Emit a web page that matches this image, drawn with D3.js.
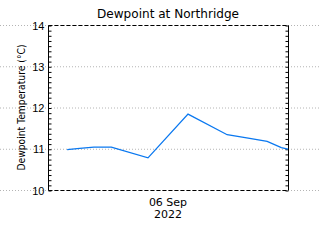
<!doctype html>
<html>
<head>
<meta charset="UTF-8">
<title>Dewpoint at Northridge</title>
<script src="https://cdn.jsdelivr.net/npm/d3@7"></script>
<style>
  html, body { margin: 0; padding: 0; background: #fff; }
  svg { display: block; font-family: "DejaVu Sans", sans-serif; }
</style>
</head>
<body>
<div id="chart"></div>
<script>
const times = ["2022-09-05T13:55", "2022-09-05T15:10", "2022-09-05T16:35",
               "2022-09-05T18:20", "2022-09-05T22:00", "2022-09-06T02:00",
               "2022-09-06T05:55", "2022-09-06T08:10", "2022-09-06T09:55",
               "2022-09-06T11:20", "2022-09-06T12:00"];
const dewpoint = [10.98, 11.01, 11.04, 11.04, 10.78, 11.84,
                  11.34, 11.25, 11.18, 11.03, 10.99];
const timeRange = ["2022-09-05T12:00", "2022-09-06T12:00"];
const yRange = [10, 14];
const yTicks = [10, 11, 12, 13, 14];
const dateLabel = ["06 Sep", "2022"];
const dateTick = "2022-09-06T00:00";

const W = 320, H = 240;
const m = {left: 48, right: 32, top: 25, bottom: 50};
const parse = d3.timeParse("%Y-%m-%dT%H:%M");

const svg = d3.select("#chart").append("svg")
  .attr("width", W).attr("height", H);

const x = d3.scaleTime()
  .domain(timeRange.map(parse))
  .range([m.left, W - m.right]);
const y = d3.scaleLinear()
  .domain(yRange)
  .range([H - m.bottom, m.top]);

// dotted grid lines run across the whole picture
svg.append("g").selectAll("line").data(yTicks).join("line")
  .attr("x1", 0).attr("x2", W)
  .attr("y1", d => y(d) + 0.5).attr("y2", d => y(d) + 0.5)
  .attr("stroke", "#b4b4b4").attr("stroke-dasharray", "1,2");

// left and right axes with inward ticks
const minor = d3.range(yRange[0], yRange[1] + 0.001, 0.125);
svg.append("g")
  .attr("transform", `translate(${m.left + 0.5},0.5)`)
  .call(d3.axisRight(y).tickValues(minor).tickSize(3).tickFormat(""))
  .call(g => g.select(".domain").remove());
svg.append("g")
  .attr("transform", `translate(${m.left + 0.5},0.5)`)
  .call(d3.axisLeft(y).tickValues(yTicks).tickSize(0).tickPadding(4)
        .tickFormat(d3.format("d")))
  .call(g => g.select(".domain").remove())
  .call(g => g.selectAll("text").attr("font-size", 11).attr("fill", "#000"));
svg.append("g")
  .attr("transform", `translate(${W - m.right + 0.5},0.5)`)
  .call(d3.axisLeft(y).tickValues(minor).tickSize(3).tickFormat(""))
  .call(g => g.select(".domain").remove());

svg.selectAll(".tick line").attr("stroke", "#000");

// frame: solid sides, dashed top and bottom
const x0 = m.left + 0.5, x1 = W - m.right + 0.5;
const yt = m.top + 0.5, yb = H - m.bottom + 0.5;
svg.append("line").attr("x1", x0).attr("x2", x0).attr("y1", yt).attr("y2", yb)
  .attr("stroke", "#000");
svg.append("line").attr("x1", x1).attr("x2", x1).attr("y1", yt).attr("y2", yb)
  .attr("stroke", "#000");
svg.append("line").attr("x1", x0).attr("x2", x1).attr("y1", yt).attr("y2", yt)
  .attr("stroke", "#000").attr("stroke-dasharray", "4,2");
svg.append("line").attr("x1", x0).attr("x2", x1).attr("y1", yb).attr("y2", yb)
  .attr("stroke", "#000").attr("stroke-dasharray", "4,2");

// dewpoint line
const pts = times.map((t, i) => [parse(t), dewpoint[i]]);
svg.append("path")
  .datum(pts)
  .attr("fill", "none")
  .attr("stroke", "#0a78f0")
  .attr("stroke-width", 1.3)
  .attr("d", d3.line().x(d => x(d[0])).y(d => y(d[1])));

// date label under the axis
const xd = x(parse(dateTick));
svg.append("text").attr("x", xd).attr("y", H - m.bottom + 16)
  .attr("text-anchor", "middle").attr("font-size", 11).text(dateLabel[0]);
svg.append("text").attr("x", xd).attr("y", H - m.bottom + 28)
  .attr("text-anchor", "middle").attr("font-size", 11).text(dateLabel[1]);

// title and y label
svg.append("text").attr("x", 168).attr("y", 18)
  .attr("text-anchor", "middle").attr("font-size", 12)
  .attr("textLength", 142).attr("lengthAdjust", "spacingAndGlyphs")
  .text("Dewpoint at Northridge");
svg.append("text")
  .attr("transform", `translate(25,${(m.top + H - m.bottom) / 2}) rotate(-90)`)
  .attr("text-anchor", "middle").attr("font-size", 11)
  .attr("textLength", 126).attr("lengthAdjust", "spacingAndGlyphs")
  .text("Dewpoint Temperature (°C)");
</script>
</body>
</html>
